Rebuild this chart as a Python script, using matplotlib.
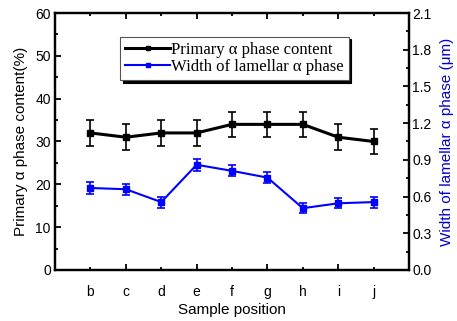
import matplotlib
matplotlib.use("Agg")
import matplotlib.pyplot as plt
import numpy as np
from matplotlib.ticker import MultipleLocator, FormatStrFormatter
from matplotlib.lines import Line2D

samples = ["b", "c", "d", "e", "f", "g", "h", "i", "j"]
alpha_content = [32, 31, 32, 32, 34, 34, 34, 31, 30]
alpha_err = [3, 3, 3, 3, 3, 3, 3, 3, 3]
lamellar_width = [0.67, 0.66, 0.555, 0.86, 0.81, 0.755, 0.505, 0.545, 0.555]
lamellar_err = [0.045, 0.045, 0.045, 0.047, 0.045, 0.045, 0.042, 0.042, 0.045]

plt.rcParams['font.family'] = ['Liberation Sans', 'DejaVu Sans']

fig = plt.figure(figsize=(4.57, 3.21), dpi=100)
ax = fig.add_axes([0.1204, 0.1589, 0.7746, 0.8006])
ax2 = ax.twinx()

x = np.arange(1, len(samples) + 1)

ax.errorbar(x, alpha_content, yerr=alpha_err, color='black', lw=2.2,
            marker='s', markersize=4, capsize=3, elinewidth=1.2, capthick=1.2)
ax2.errorbar(x, lamellar_width, yerr=lamellar_err, color='#0000ff', lw=1.5,
             marker='s', markersize=4, capsize=3, elinewidth=1.2, capthick=1.2)

ax.set_xlim(0, 10)
ax.set_ylim(0, 60)
ax2.set_ylim(0, 2.1)

major_idx = [1, 3, 5, 7]
minor_idx = [0, 2, 4, 6, 8]
ax.set_xticks([x[i] for i in major_idx], labels=[samples[i] for i in major_idx])
ax.set_xticks([x[i] for i in minor_idx], labels=[samples[i] for i in minor_idx], minor=True)

ax.yaxis.set_major_locator(MultipleLocator(10))
ax.yaxis.set_minor_locator(MultipleLocator(5))
ax2.yaxis.set_major_locator(MultipleLocator(0.3))
ax2.yaxis.set_minor_locator(MultipleLocator(0.15))
ax2.yaxis.set_major_formatter(FormatStrFormatter('%.1f'))

ax.tick_params(axis='both', which='major', direction='in', length=4.5, width=1.3,
               labelsize=10, top=True)
ax.tick_params(axis='both', which='minor', direction='in', length=2.5, width=1.3,
               labelsize=10, top=True)
ax.tick_params(axis='x', which='both', pad=11)
ax.tick_params(axis='y', which='both', pad=3, right=False)
ax2.tick_params(axis='y', which='major', direction='in', length=4.5, width=1.3,
                labelsize=10, pad=2.5)
ax2.tick_params(axis='y', which='minor', direction='in', length=2.5, width=1.3)

for a in (ax, ax2):
    for s in a.spines.values():
        s.set_linewidth(1.6)

ax.set_xlabel('Sample position', fontsize=11, labelpad=3)
ax.set_ylabel('Primary α phase content(%)', fontsize=11, labelpad=5)
ax2.set_ylabel('Width of lamellar α phase (μm)', fontsize=11, color='#0000cc', labelpad=6)

h1 = Line2D([], [], color='black', lw=2.2, marker='s', markersize=3)
h2 = Line2D([], [], color='#0000ff', lw=1.5, marker='s', markersize=3)
leg = ax.legend([h1, h2], ['Primary α phase content', 'Width of lamellar α phase'],
                loc='upper left', bbox_to_anchor=(0.184, 0.908),
                prop={'family': 'Liberation Serif', 'size': 12},
                frameon=True, fancybox=False, shadow={'color': 'black', 'alpha': 1},
                borderpad=0.3, labelspacing=0.1, handlelength=2.7, handletextpad=0.05,
                borderaxespad=0)
leg.get_frame().set_edgecolor('#555555')
leg.get_frame().set_linewidth(0.8)

fig.savefig('out.png', dpi=100)
